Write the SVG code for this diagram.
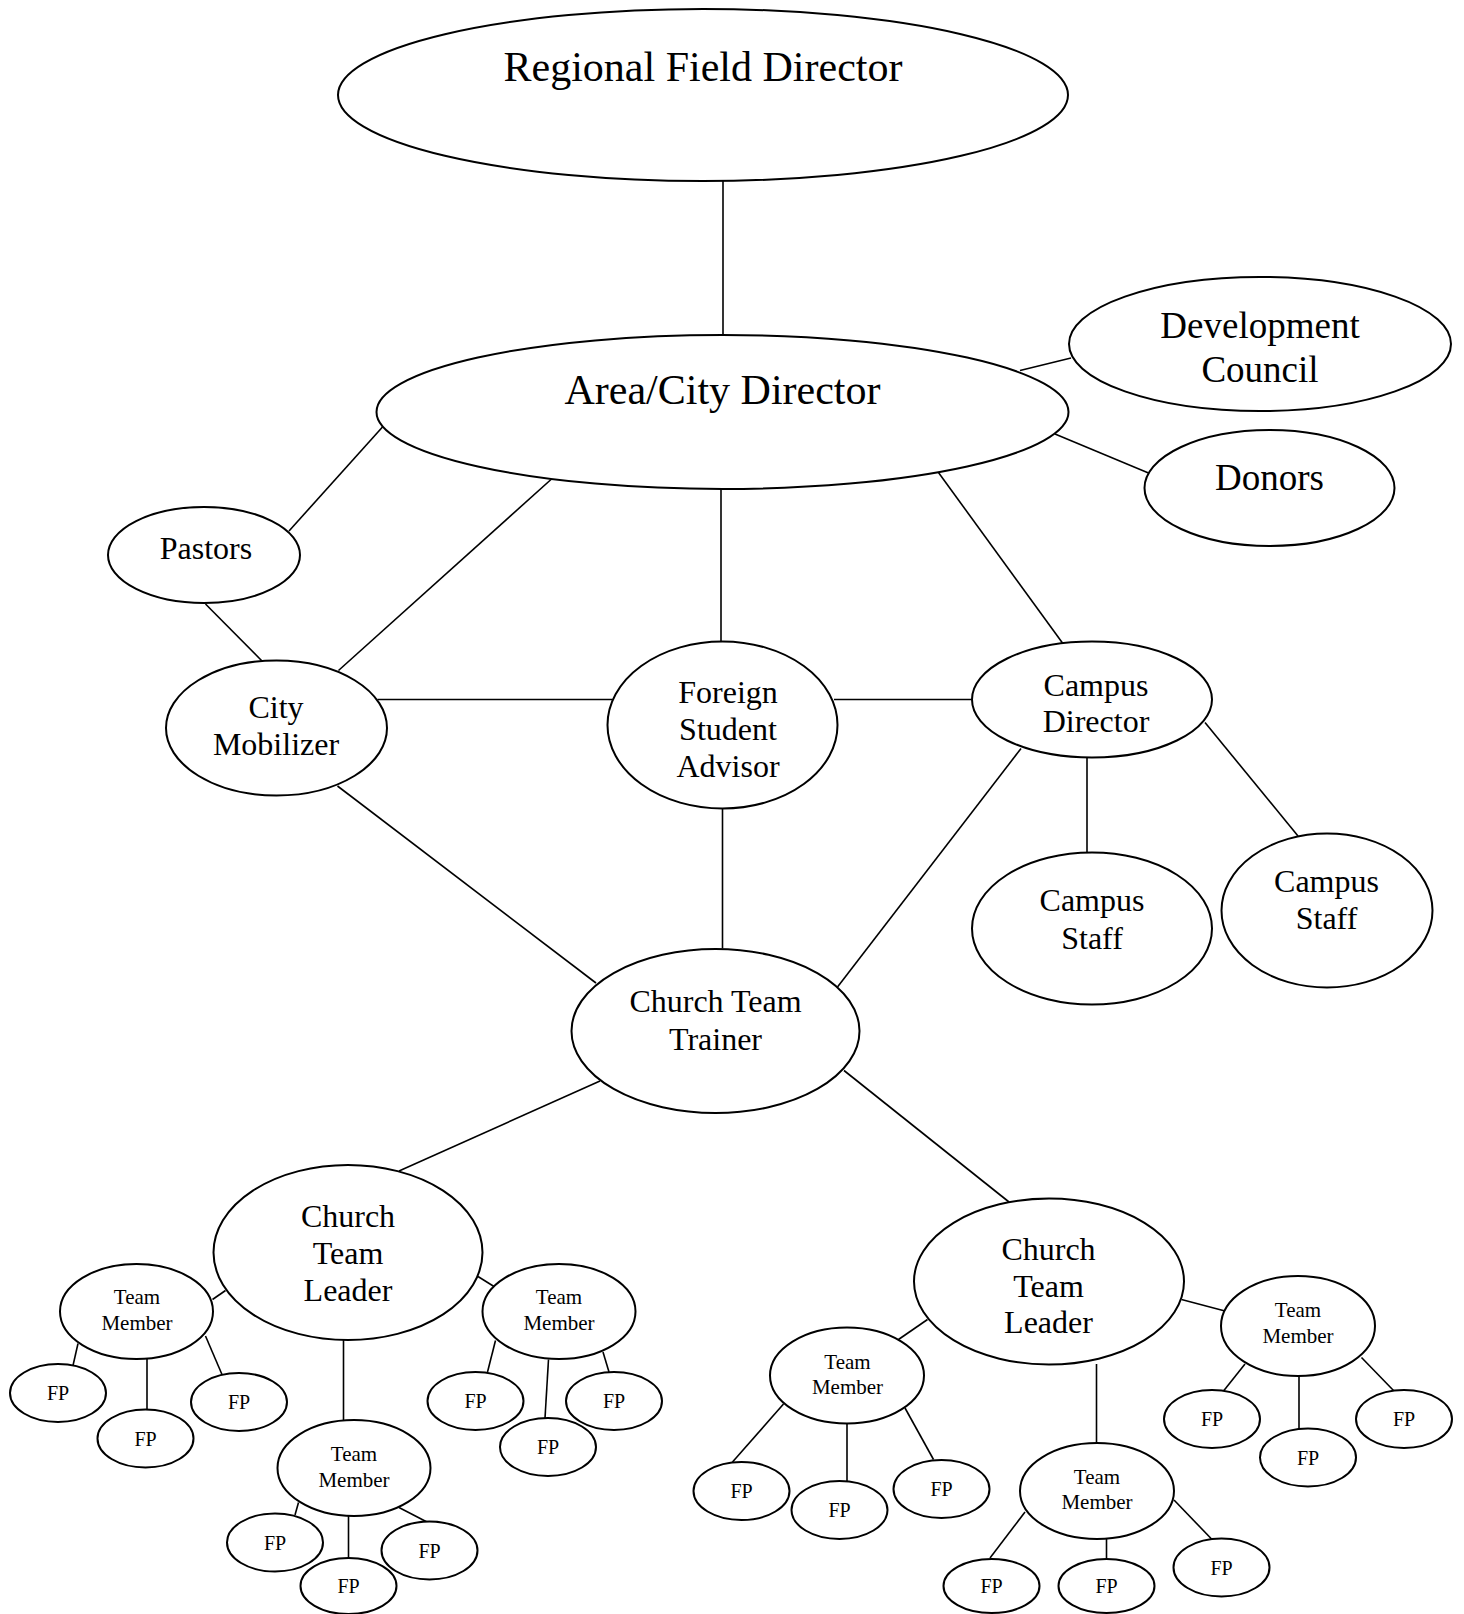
<svg xmlns="http://www.w3.org/2000/svg" width="1464" height="1614" viewBox="0 0 1464 1614">
<style>
.n ellipse{fill:#fff;stroke:#000;stroke-width:2}
.c line{stroke:#000;stroke-width:1.6}
text{font-family:"Liberation Serif","Times New Roman",serif;fill:#000;text-anchor:middle}
.t42{font-size:42px}.t37{font-size:37px}.t32{font-size:32px}.t21{font-size:21px}.t20{font-size:20px}
</style>
<rect width="1464" height="1614" fill="#fff"/>
<g id="connectors" class="c">
<line x1="723" y1="181" x2="723" y2="335"/>
<line x1="1020" y1="370.5" x2="1071" y2="358"/>
<line x1="1055" y1="434" x2="1148.5" y2="473"/>
<line x1="382.5" y1="427" x2="289" y2="531"/>
<line x1="551" y1="479.5" x2="338.5" y2="670.5"/>
<line x1="721" y1="488.5" x2="721" y2="641.5"/>
<line x1="937" y1="470.5" x2="1062.5" y2="643"/>
<line x1="205.5" y1="604" x2="262" y2="661"/>
<line x1="377.5" y1="699.5" x2="612.5" y2="699.5"/>
<line x1="834" y1="699.5" x2="971.5" y2="699.5"/>
<line x1="1087" y1="757.5" x2="1087" y2="853"/>
<line x1="1205" y1="722.5" x2="1298" y2="836"/>
<line x1="1021" y1="748.5" x2="837.5" y2="987"/>
<line x1="722.5" y1="808.5" x2="722.5" y2="948.5"/>
<line x1="337.5" y1="786" x2="596" y2="983"/>
<line x1="600" y1="1081" x2="399" y2="1171"/>
<line x1="844" y1="1070.5" x2="1009" y2="1202"/>
<line x1="225.5" y1="1290.5" x2="212.5" y2="1299.5"/>
<line x1="478" y1="1276.5" x2="494" y2="1286.5"/>
<line x1="343.5" y1="1340" x2="343.5" y2="1420"/>
<line x1="78" y1="1343.5" x2="73" y2="1365.5"/>
<line x1="147" y1="1359" x2="147" y2="1409.5"/>
<line x1="205.5" y1="1336" x2="222" y2="1374.5"/>
<line x1="495.5" y1="1340.5" x2="487.5" y2="1372"/>
<line x1="548.5" y1="1359.5" x2="545" y2="1418"/>
<line x1="603" y1="1352" x2="609" y2="1372"/>
<line x1="298.5" y1="1502.5" x2="295" y2="1515"/>
<line x1="348.5" y1="1516" x2="348.5" y2="1558"/>
<line x1="399" y1="1507.5" x2="427" y2="1522"/>
<line x1="927.5" y1="1319.5" x2="898.5" y2="1339.5"/>
<line x1="1096.5" y1="1364" x2="1096.5" y2="1443"/>
<line x1="1181.5" y1="1299.5" x2="1225" y2="1311"/>
<line x1="783.5" y1="1404" x2="732.5" y2="1462"/>
<line x1="847" y1="1423.5" x2="847" y2="1481.5"/>
<line x1="905" y1="1408" x2="933.5" y2="1459.5"/>
<line x1="1025" y1="1512" x2="990" y2="1558"/>
<line x1="1106.5" y1="1539" x2="1106.5" y2="1558.5"/>
<line x1="1174" y1="1500" x2="1212.5" y2="1540"/>
<line x1="1245" y1="1364" x2="1223.5" y2="1391"/>
<line x1="1299" y1="1376" x2="1299" y2="1429"/>
<line x1="1361.5" y1="1357.5" x2="1394" y2="1391"/>
</g>
<g id="rfd" class="n"><ellipse cx="703" cy="95" rx="365" ry="86"/><text class="t42" x="703" y="81">Regional Field Director</text></g>
<g id="acd" class="n"><ellipse cx="722.5" cy="412" rx="346" ry="77"/><text class="t42" x="722.5" y="404">Area/City Director</text></g>
<g id="dc" class="n"><ellipse cx="1260" cy="344" rx="191" ry="67"/><text class="t37" x="1260" y="337.5">Development</text><text class="t37" x="1260" y="381.5">Council</text></g>
<g id="donors" class="n"><ellipse cx="1269.5" cy="488" rx="125" ry="58"/><text class="t37" x="1269.5" y="490">Donors</text></g>
<g id="pastors" class="n"><ellipse cx="204" cy="555" rx="96" ry="48"/><text class="t32" x="206" y="559">Pastors</text></g>
<g id="cm" class="n"><ellipse cx="276.5" cy="728" rx="110.5" ry="67.5"/><text class="t32" x="276" y="718">City</text><text class="t32" x="276" y="754.5">Mobilizer</text></g>
<g id="fsa" class="n"><ellipse cx="722.5" cy="725" rx="115" ry="83.5"/><text class="t32" x="728" y="703">Foreign</text><text class="t32" x="728" y="740">Student</text><text class="t32" x="728" y="776.5">Advisor</text></g>
<g id="cd" class="n"><ellipse cx="1092" cy="699.5" rx="120" ry="58"/><text class="t32" x="1096" y="695.5">Campus</text><text class="t32" x="1096" y="731.5">Director</text></g>
<g id="cs1" class="n"><ellipse cx="1092" cy="928.5" rx="120" ry="76"/><text class="t32" x="1092" y="911">Campus</text><text class="t32" x="1092" y="948.5">Staff</text></g>
<g id="cs2" class="n"><ellipse cx="1327" cy="910.5" rx="105.5" ry="77"/><text class="t32" x="1326.5" y="891.5">Campus</text><text class="t32" x="1326.5" y="929">Staff</text></g>
<g id="ctt" class="n"><ellipse cx="715.5" cy="1031" rx="144" ry="82"/><text class="t32" x="715.5" y="1012">Church Team</text><text class="t32" x="715.5" y="1049.5">Trainer</text></g>
<g id="ctl1" class="n"><ellipse cx="348" cy="1252.5" rx="134.5" ry="87.5"/><text class="t32" x="348" y="1227">Church</text><text class="t32" x="348" y="1264">Team</text><text class="t32" x="348" y="1301">Leader</text></g>
<g id="ctl2" class="n"><ellipse cx="1049" cy="1281.5" rx="135" ry="83"/><text class="t32" x="1048.5" y="1260">Church</text><text class="t32" x="1048.5" y="1297">Team</text><text class="t32" x="1048.5" y="1333">Leader</text></g>
<g id="tmL1" class="n"><ellipse cx="136.5" cy="1311.5" rx="76.5" ry="47.5"/><text class="t21" x="137" y="1304">Team</text><text class="t21" x="137" y="1330">Member</text></g>
<g id="tmL2" class="n"><ellipse cx="559" cy="1311.5" rx="76.5" ry="47.5"/><text class="t21" x="559" y="1304">Team</text><text class="t21" x="559" y="1330">Member</text></g>
<g id="tmL3" class="n"><ellipse cx="354" cy="1468" rx="76.5" ry="48"/><text class="t21" x="354" y="1461">Team</text><text class="t21" x="354" y="1486.5">Member</text></g>
<g id="tmR1" class="n"><ellipse cx="847" cy="1375.5" rx="77" ry="48"/><text class="t21" x="847.5" y="1369">Team</text><text class="t21" x="847.5" y="1393.5">Member</text></g>
<g id="tmR2" class="n"><ellipse cx="1097" cy="1491" rx="77" ry="48"/><text class="t21" x="1097" y="1484">Team</text><text class="t21" x="1097" y="1508.5">Member</text></g>
<g id="tmR3" class="n"><ellipse cx="1298" cy="1326" rx="77" ry="50"/><text class="t21" x="1298" y="1317">Team</text><text class="t21" x="1298" y="1342.5">Member</text></g>
<g id="fpA" class="n"><ellipse cx="58" cy="1393" rx="48" ry="29"/><text class="t20" x="58" y="1400">FP</text></g>
<g id="fpB" class="n"><ellipse cx="145.5" cy="1438.5" rx="48" ry="29"/><text class="t20" x="145.5" y="1445.5">FP</text></g>
<g id="fpC" class="n"><ellipse cx="239" cy="1402" rx="48" ry="29"/><text class="t20" x="239" y="1409">FP</text></g>
<g id="fpD" class="n"><ellipse cx="475.5" cy="1401" rx="48" ry="29"/><text class="t20" x="475.5" y="1408">FP</text></g>
<g id="fpE" class="n"><ellipse cx="548" cy="1447" rx="48" ry="29"/><text class="t20" x="548" y="1454">FP</text></g>
<g id="fpF" class="n"><ellipse cx="614" cy="1401" rx="48" ry="29"/><text class="t20" x="614" y="1408">FP</text></g>
<g id="fpG" class="n"><ellipse cx="275" cy="1542.5" rx="48" ry="29"/><text class="t20" x="275" y="1549.5">FP</text></g>
<g id="fpH" class="n"><ellipse cx="348.5" cy="1586" rx="48" ry="28"/><text class="t20" x="348.5" y="1593">FP</text></g>
<g id="fpI" class="n"><ellipse cx="429.5" cy="1550.5" rx="48" ry="29"/><text class="t20" x="429.5" y="1557.5">FP</text></g>
<g id="fpJ" class="n"><ellipse cx="741.5" cy="1491" rx="48" ry="29"/><text class="t20" x="741.5" y="1498">FP</text></g>
<g id="fpK" class="n"><ellipse cx="839.5" cy="1510" rx="48" ry="29"/><text class="t20" x="839.5" y="1517">FP</text></g>
<g id="fpL" class="n"><ellipse cx="941.5" cy="1489" rx="48" ry="29"/><text class="t20" x="941.5" y="1496">FP</text></g>
<g id="fpM" class="n"><ellipse cx="991.5" cy="1586" rx="48" ry="27"/><text class="t20" x="991.5" y="1593">FP</text></g>
<g id="fpN" class="n"><ellipse cx="1106.5" cy="1586" rx="48" ry="27"/><text class="t20" x="1106.5" y="1593">FP</text></g>
<g id="fpO" class="n"><ellipse cx="1221.5" cy="1567.5" rx="48" ry="29"/><text class="t20" x="1221.5" y="1574.5">FP</text></g>
<g id="fpP" class="n"><ellipse cx="1212" cy="1419" rx="48" ry="29"/><text class="t20" x="1212" y="1426">FP</text></g>
<g id="fpQ" class="n"><ellipse cx="1308" cy="1457.5" rx="48" ry="29"/><text class="t20" x="1308" y="1464.5">FP</text></g>
<g id="fpR" class="n"><ellipse cx="1404" cy="1419" rx="48" ry="29"/><text class="t20" x="1404" y="1426">FP</text></g>
</svg>
